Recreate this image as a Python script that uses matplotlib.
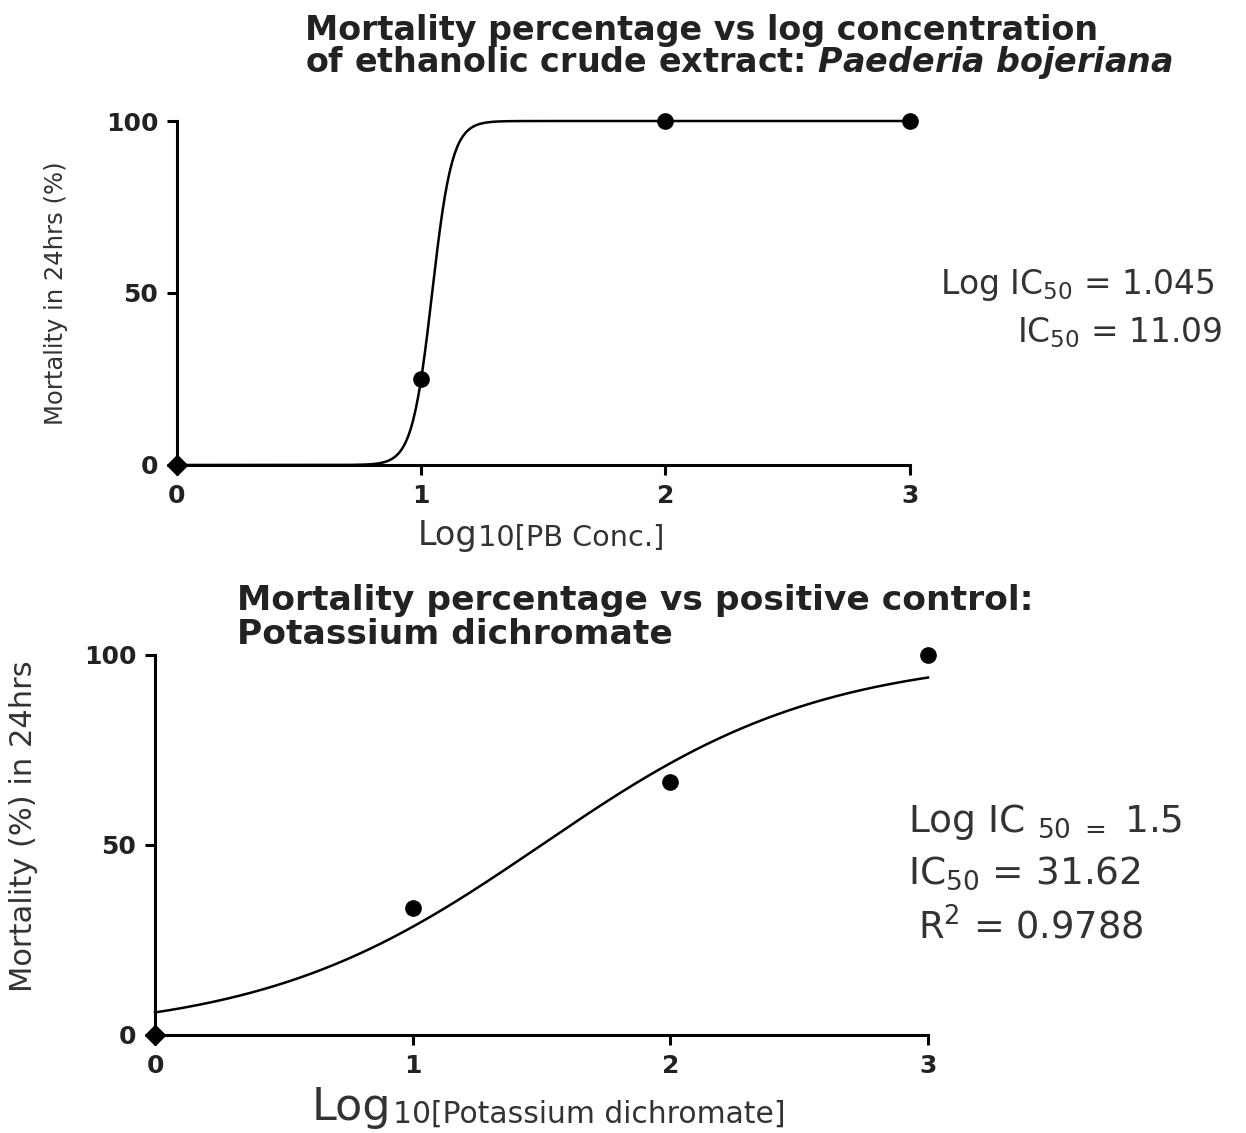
import numpy as np
import matplotlib
matplotlib.use("Agg")
import matplotlib.pyplot as plt

plt.rcParams['font.family'] = ['DejaVu Sans']
plt.rcParams['mathtext.fontset'] = 'dejavusans'

# data
pb_logconc = [0, 1, 2, 3]
pb_mortality = [0, 25, 100, 100]
pb_log_ic50 = 1.045
pb_hill = 10.6

kd_logconc = [0, 1, 2, 3]
kd_mortality = [0, 33.3, 66.7, 100]
kd_log_ic50 = 1.5
kd_hill = 0.8

xticks = [0, 1, 2, 3]
yticks = [0, 50, 100]

TXT = '#333333'


def hill_curve(x, log_ic50, slope):
    return 100.0 / (1.0 + 10 ** ((log_ic50 - x) * slope))


def style_axes(ax):
    for s in ['top', 'right']:
        ax.spines[s].set_visible(False)
    for s in ['left', 'bottom']:
        ax.spines[s].set_linewidth(2.2)
    ax.set_xlim(0, 3)
    ax.set_ylim(0, 100)
    ax.set_xticks(xticks)
    ax.set_yticks(yticks)
    ax.tick_params(width=2.2, length=7.5, labelsize=18, pad=6, labelcolor='#222222')
    for lab in ax.get_xticklabels() + ax.get_yticklabels():
        lab.set_fontweight('bold')


def draw_points(ax, x, y):
    # the point sitting on the origin looks like a diamond in the original
    ax.plot(x[:1], y[:1], 'D', color='black', ms=10, clip_on=False, zorder=5)
    ax.plot(x[1:], y[1:], 'o', color='black', ms=11, clip_on=False, zorder=5)


def sub_label(x, y, main, sub, size_main, size_sub):
    # "Log" followed by a large subscript, like the original
    t = fig.text(x, y, main, fontsize=size_main, color=TXT, ha='left', va='baseline')
    plt.annotate(sub, xy=(1, 0), xycoords=t, xytext=(1, 0), textcoords='offset points',
                 fontsize=size_sub, color=TXT, ha='left', va='bottom',
                 annotation_clip=False)


fig = plt.figure(figsize=(12.46, 11.33), dpi=100)

# ---------------- top panel ----------------
ax1 = fig.add_axes([0.142, 0.5896, 0.588, 0.3036])
style_axes(ax1)
xs = np.linspace(0, 3, 600)
ax1.plot(xs, hill_curve(xs, pb_log_ic50, pb_hill), color='black', lw=1.8, clip_on=False)
draw_points(ax1, pb_logconc, pb_mortality)
ax1.set_ylabel('Mortality in 24hrs (%)', fontsize=17.5, color=TXT)
ax1.yaxis.set_label_coords(-0.149, 0.5)

fig.text(0.245, 0.9735, 'Mortality percentage vs log concentration', fontsize=24,
         fontweight='bold', ha='left', va='center', color='#222222')
fig.text(0.245, 0.945, r'of ethanolic crude extract: $\mathbfit{Paederia\ bojeriana}$', fontsize=24,
         fontweight='bold', ha='left', va='center', color='#222222')

fig.text(0.975, 0.7485, r'Log IC$_{50}$ = 1.045', fontsize=23.7, ha='right', va='center', color=TXT)
fig.text(0.981, 0.706, r'IC$_{50}$ = 11.09', fontsize=23.7, ha='right', va='center', color=TXT)

plt.sca(ax1)
sub_label(0.335, 0.519, 'Log', '10[PB Conc.]', 24, 20.7)

# ---------------- bottom panel ----------------
ax2 = fig.add_axes([0.1244, 0.0865, 0.6204, 0.3354])
style_axes(ax2)
ax2.plot(xs, hill_curve(xs, kd_log_ic50, kd_hill), color='black', lw=1.8, clip_on=False)
draw_points(ax2, kd_logconc, kd_mortality)
ax2.set_ylabel('Mortality (%) in 24hrs', fontsize=22, color=TXT)
ax2.yaxis.set_label_coords(-0.151, 0.55)

fig.text(0.19, 0.4704, 'Mortality percentage vs positive control:', fontsize=24.8,
         fontweight='bold', ha='left', va='center', color='#222222')
fig.text(0.19, 0.4396, 'Potassium dichromate', fontsize=24.8,
         fontweight='bold', ha='left', va='center', color='#222222')

fig.text(0.7287, 0.2745, r'Log IC $_{50\ =}$ 1.5', fontsize=27, ha='left', va='center', color=TXT)
fig.text(0.7287, 0.2295, r'IC$_{50}$ = 31.62', fontsize=27, ha='left', va='center', color=TXT)
fig.text(0.7368, 0.181, r'R$^{2}$ = 0.9788', fontsize=26.5, ha='left', va='center', color=TXT)

plt.sca(ax2)
sub_label(0.2504, 0.0115, 'Log', '10[Potassium dichromate]', 32, 21.4)

fig.savefig('out.png', dpi=100, facecolor='white')
